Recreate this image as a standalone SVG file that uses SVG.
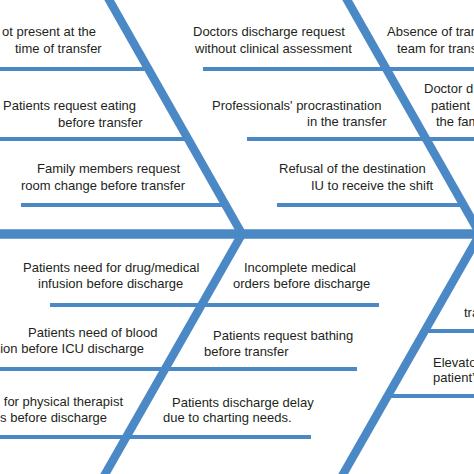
<svg xmlns="http://www.w3.org/2000/svg" width="474" height="474" viewBox="0 0 474 474">
<style>
.bone{stroke:#4a89c5;stroke-width:8.5;fill:none}
.spine{stroke:#4a89c5;stroke-width:9.5;fill:none}
.sub{stroke:#4a89c5;stroke-width:4;fill:none}
text{font-family:"Liberation Sans",Arial,sans-serif;font-size:13px;fill:#231f20}
.e{text-anchor:end}
</style>
<rect width="474" height="474" fill="#ffffff"/>
<g id="connectors">
<line class="spine" x1="0" y1="234" x2="474" y2="234"/>
<line class="bone" x1="108" y1="-2" x2="242" y2="234"/>
<line class="bone" x1="242" y1="234" x2="104" y2="476"/>
<line class="bone" x1="346" y1="-2" x2="480" y2="234"/>
<line class="bone" x1="480" y1="234" x2="342" y2="476"/>
<line class="sub" x1="0" y1="69" x2="147" y2="69"/>
<line class="sub" x1="0" y1="139" x2="187" y2="139"/>
<line class="sub" x1="21" y1="205" x2="225" y2="205"/>
<line class="sub" x1="203" y1="69" x2="386" y2="69"/>
<line class="sub" x1="247" y1="139" x2="426" y2="139"/>
<line class="sub" x1="277" y1="205" x2="464" y2="205"/>
<line class="sub" x1="386" y1="69" x2="474" y2="69"/>
<line class="sub" x1="426" y1="139" x2="474" y2="139"/>
<line class="sub" x1="50" y1="305" x2="201" y2="305"/>
<line class="sub" x1="0" y1="369" x2="165" y2="369"/>
<line class="sub" x1="0" y1="437" x2="126" y2="437"/>
<line class="sub" x1="201" y1="305" x2="379" y2="305"/>
<line class="sub" x1="165" y1="369" x2="357" y2="369"/>
<line class="sub" x1="126" y1="437" x2="311" y2="437"/>
<line class="sub" x1="425" y1="331" x2="474" y2="331"/>
<line class="sub" x1="388" y1="396" x2="474" y2="396"/>
</g>
<g id="n1"><text class="e" x="96" y="36">ot present at the</text><text x="15" y="53">time of transfer</text></g>
<g id="n2"><text x="3" y="110">Patients request eating</text><text x="58" y="127">before transfer</text></g>
<g id="n3"><text x="37" y="173">Family members request</text><text x="21" y="190">room change before transfer</text></g>
<g id="n4"><text x="193" y="36">Doctors discharge request</text><text x="195" y="53">without clinical assessment</text></g>
<g id="n5"><text x="212" y="110">Professionals' procrastination</text><text x="307" y="126">in the transfer</text></g>
<g id="n6"><text x="279" y="173">Refusal of the destination</text><text x="311" y="190">IU to receive the shift</text></g>
<g id="n7"><text x="387" y="36">Absence of tran</text><text x="397" y="53">team for trans</text></g>
<g id="n8"><text x="424" y="93">Doctor d</text><text x="431" y="109.5">patient</text><text x="436" y="126">the fam</text></g>
<g id="n9"><text x="23" y="272">Patients need for drug/medical</text><text x="38" y="288">infusion before discharge</text></g>
<g id="n10"><text x="28" y="337">Patients need of blood</text><text class="e" x="144" y="353">sion before ICU discharge</text></g>
<g id="n11"><text class="e" x="123" y="406">for physical therapist</text><text class="e" x="107" y="422">es before discharge</text></g>
<g id="n12"><text x="244" y="272">Incomplete medical</text><text x="233" y="288">orders before discharge</text></g>
<g id="n13"><text x="213" y="340">Patients request bathing</text><text x="204" y="356">before transfer</text></g>
<g id="n14"><text x="172" y="407">Patients discharge delay</text><text x="163" y="422">due to charting needs.</text></g>
<g id="n15"><text x="464" y="317">tra</text></g>
<g id="n16"><text x="433" y="367">Elevator</text><text x="433" y="382">patient’s</text></g>
</svg>
